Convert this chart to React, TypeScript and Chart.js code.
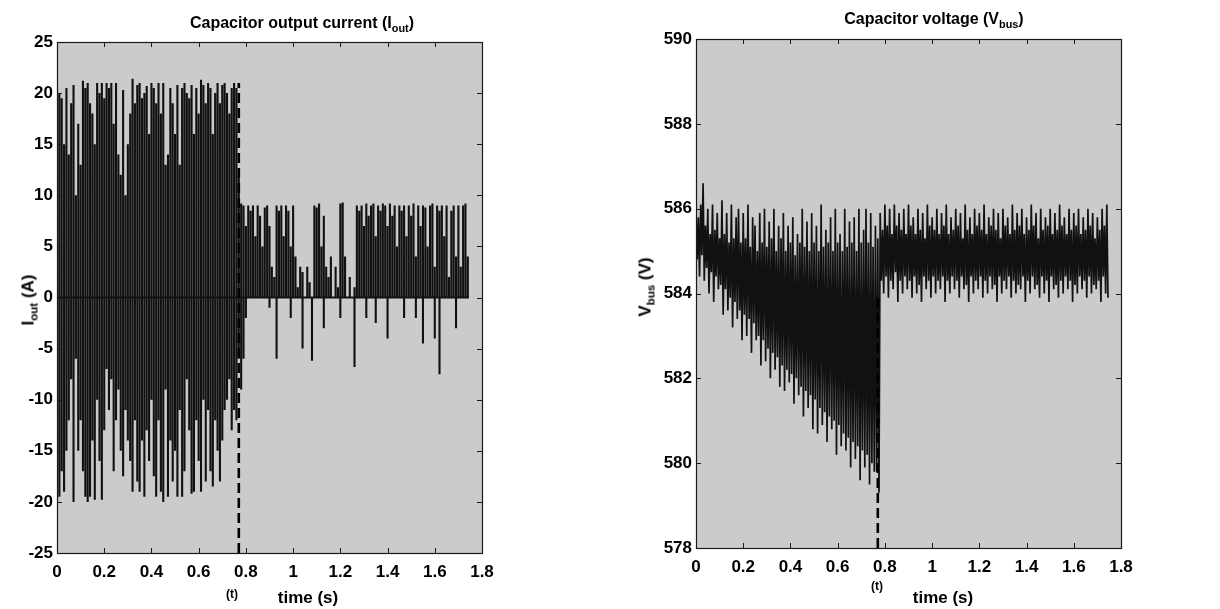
import React, { useEffect, useRef } from "react";
import { Chart, registerables } from "chart.js";

Chart.register(...registerables);

const FONT = '"Liberation Sans", Arial, Helvetica, sans-serif';
const PLOT_BG = "#cbcbcb";

// sampling bin of the recorded traces (s) and event instant
const binSeconds = 0.01;
const eventTime = 0.77;
const traceEnd = 1.745;

// Capacitor output current: per-bin positive peak (A), t = 0.00 .. 1.74 s
const iHi = [
  20.5, 20, 19.5, 15, 20.5, 14, 19, 20.8, 10, 17,
  13, 21.2, 20.5, 21, 19, 18, 15, 21, 20, 21,
  19.5, 21, 20.5, 21, 17, 21, 14, 12, 20.3, 10,
  15, 18, 21.4, 19, 20.8, 21, 19.5, 20, 20.7, 16,
  21, 20.5, 19, 21, 18, 21, 13, 14, 20.5, 19,
  16, 20.8, 13, 20.5, 21, 20, 19.5, 20.8, 16, 20.5,
  18, 21.3, 20.8, 19, 21, 20.5, 16, 20, 21, 19,
  20.8, 21, 20, 18, 20.5, 21, 20.5, 12,
  9.2, 9, 7, 9, 8.5, 9, 6, 9, 8, 5,
  8.8, 9, 7, 3, 2, 9, 8.5, 9, 6, 9,
  8.5, 5, 9, 4, 1, 3, 2.5, 0, 3, 1.5,
  0, 9, 8.8, 9.2, 5, 8, 3, 2, 4, 0,
  3, 1, 9.2, 9.3, 4, 0, 2, 0, 1, 9,
  8.5, 9, 7, 9.2, 8, 9, 9.2, 6, 9, 8.5,
  9.2, 9, 7, 9.2, 8, 9, 5, 9, 8.5, 9,
  6, 9, 8, 9.2, 4, 9, 7, 9, 8.8, 5,
  9, 9.2, 3, 9, 8.5, 9, 6, 9, 2, 8.5,
  9, 4, 9, 3, 9, 9.2, 4,
];

// Capacitor output current: per-bin negative peak (A)
const iLo = [
  -20, -19.5, -17, -19, -15, -12, -8, -20, -6, -15,
  -12, -17, -19.5, -20, -19.5, -14, -19.8, -10, -16, -19.8,
  -13, -7, -11, -8, -17, -12, -9, -15, -17.5, -11,
  -14, -16, -19, -12, -18, -19, -14, -19.5, -13, -16,
  -10, -17.5, -19.5, -12, -19, -20, -9, -19.5, -14, -18,
  -15, -19.5, -11, -19.5, -17, -8, -13, -19.2, -19, -12,
  -16, -19, -10, -18, -11, -17, -18.5, -12, -15, -18,
  -14, -11, -10, -8, -13, -11, -12, -6,
  -9, -6, -2, 0, 0, 0, 0, 0, 0, 0,
  0, 0, -1, 0, 0, -6, 0, 0, 0, 0,
  0, -2, 0, 0, 0, 0, -5, 0, 0, 0,
  -6.2, 0, 0, 0, 0, -3, 0, 0, 0, 0,
  0, 0, -2, 0, 0, 0, 0, 0, -6.8, 0,
  0, 0, 0, -2, 0, 0, 0, -2.5, 0, 0,
  0, 0, -4, 0, 0, 0, 0, 0, 0, -2,
  0, 0, 0, 0, -2, 0, 0, -4.5, 0, 0,
  0, 0, -4, 0, -7.5, 0, 0, 0, 0, 0,
  0, -3, 0, 0, 0, 0, 0,
];

// Capacitor voltage: per-bin upper value (V)
const vHi = [
  586.0, 585.8, 586.1, 586.6, 585.6, 586.0, 585.4, 586.1, 585.5, 585.9,
  585.3, 586.2, 585.4, 585.9, 585.2, 586.1, 585.3, 585.8, 586.0, 585.2,
  585.9, 585.3, 586.1, 585.1, 585.8, 585.6, 585.0, 585.9, 585.2, 586.0,
  585.1, 585.7, 585.3, 586.0, 585.0, 585.6, 585.3, 585.9, 585.0, 585.6,
  585.2, 585.8, 584.9, 585.4, 585.2, 586.0, 585.1, 585.7, 585.0, 585.9,
  585.2, 585.6, 585.0, 586.1, 585.1, 585.5, 585.2, 585.8, 585.0, 586.0,
  585.2, 585.4, 585.0, 586.0, 585.1, 585.7, 585.2, 585.8, 585.0, 586.0,
  585.2, 585.5, 586.0, 585.2, 585.9, 585.1, 585.6, 585.3,
  585.9, 585.5, 586.1, 585.6, 586.0, 585.4, 586.1, 585.6, 585.9, 585.5,
  586.0, 585.4, 586.1, 585.6, 585.8, 585.4, 586.0, 585.5, 585.9, 585.3,
  586.1, 585.6, 585.8, 585.5, 586.0, 585.4, 585.9, 585.6, 586.1, 585.4,
  585.8, 585.5, 586.0, 585.6, 585.9, 585.3, 586.1, 585.5, 585.8, 585.4,
  586.0, 585.6, 585.9, 585.5, 586.1, 585.4, 585.8, 585.6, 586.0, 585.5,
  585.9, 585.3, 586.0, 585.6, 585.8, 585.4, 586.1, 585.5, 585.9, 585.6,
  586.0, 585.4, 585.8, 585.5, 586.1, 585.6, 585.9, 585.3, 586.0, 585.5,
  585.8, 585.6, 586.0, 585.4, 585.9, 585.5, 586.1, 585.6, 585.8, 585.4,
  586.0, 585.5, 585.9, 585.6, 586.0, 585.4, 585.8, 585.5, 586.0, 585.6,
  585.9, 585.3, 585.8, 585.5, 586.0, 585.6, 586.1,
];

// Capacitor voltage: per-bin lower value (V)
const vLo = [
  584.8, 584.4, 584.9, 584.3, 584.6, 584.0, 584.5, 583.8, 584.4, 584.1,
  584.2, 583.5, 584.1, 583.6, 583.9, 583.2, 583.8, 583.4, 583.6, 582.9,
  583.5, 583.0, 583.4, 582.6, 583.3, 582.9, 583.0, 582.3, 582.9, 582.4,
  582.7, 582.0, 582.6, 582.2, 582.5, 581.8, 582.3, 581.7, 582.2, 581.9,
  582.1, 581.4, 582.0, 581.6, 581.8, 581.1, 581.7, 581.3, 581.6, 580.8,
  581.5, 580.7, 581.3, 580.9, 581.2, 580.5, 581.1, 580.8, 581.0, 580.2,
  580.9, 580.4, 580.7, 580.3, 580.6, 579.9, 580.5, 580.1, 580.4, 579.6,
  580.3, 579.9, 580.2, 579.5, 580.0, 579.8, 579.8, 579.3,
  584.3, 584.0, 584.4, 583.9, 584.3, 584.1, 584.5, 583.8, 584.3, 584.0,
  584.4, 584.1, 584.3, 583.9, 584.4, 584.0, 584.2, 583.8, 584.4, 584.1,
  584.3, 583.9, 584.4, 584.0, 584.3, 584.1, 584.4, 583.8, 584.3, 584.0,
  584.4, 584.1, 584.3, 583.9, 584.4, 584.1, 584.2, 583.8, 584.4, 584.0,
  584.3, 584.1, 584.4, 583.9, 584.3, 584.0, 584.4, 584.1, 584.2, 583.8,
  584.4, 584.0, 584.3, 584.1, 584.4, 583.9, 584.3, 584.0, 584.2, 584.1,
  584.4, 583.8, 584.3, 584.0, 584.4, 584.1, 584.2, 583.9, 584.4, 584.0,
  584.3, 583.8, 584.4, 584.1, 584.2, 583.9, 584.3, 584.0, 584.4, 584.1,
  584.3, 583.8, 584.2, 584.0, 584.4, 584.1, 584.3, 583.9, 584.4, 584.0,
  584.2, 584.1, 584.3, 583.8, 584.4, 584.0, 583.9,
];

// axis ranges
const xRange = [0, 1.8, 0.2];
const iRange = [-25, 25, 5];
const vRange = [578, 590, 2];
// dashed marker extents (value axis)
const iMarker = [-25, 21];
const vMarker = [578, 584];

function currentTrace() {
  const pts: { x: number; y: number }[] = [];
  iHi.forEach((hi, k) => {
    const t = k * binSeconds;
    pts.push({ x: t, y: 0 }, { x: t, y: hi }, { x: t, y: iLo[k] }, { x: t, y: 0 });
  });
  pts.push({ x: traceEnd, y: 0 });
  return pts;
}

function voltageTrace() {
  const pts: { x: number; y: number }[] = [];
  vHi.forEach((hi, k) => {
    const t = k * binSeconds;
    pts.push({ x: t, y: hi }, { x: t + binSeconds / 2, y: vLo[k] });
  });
  return pts;
}

const framePlugin = {
  id: "frame",
  beforeDraw(chart: any) {
    const { ctx, chartArea: a } = chart;
    ctx.save();
    ctx.fillStyle = PLOT_BG;
    ctx.fillRect(a.left, a.top, a.right - a.left, a.bottom - a.top);
    ctx.restore();
  },
  afterDraw(chart: any) {
    const { ctx, chartArea: a } = chart;
    const xs = chart.scales.x;
    const ys = chart.scales.y;
    ctx.save();
    ctx.strokeStyle = "#1a1a1a";
    ctx.lineWidth = 1;
    ctx.beginPath();
    xs.ticks.forEach((t: any) => {
      const px = Math.round(xs.getPixelForValue(t.value)) + 0.5;
      ctx.moveTo(px, a.bottom);
      ctx.lineTo(px, a.bottom - 5);
      ctx.moveTo(px, a.top);
      ctx.lineTo(px, a.top + 5);
    });
    ys.ticks.forEach((t: any) => {
      const py = Math.round(ys.getPixelForValue(t.value)) + 0.5;
      ctx.moveTo(a.left, py);
      ctx.lineTo(a.left + 5, py);
      ctx.moveTo(a.right, py);
      ctx.lineTo(a.right - 5, py);
    });
    ctx.stroke();
    ctx.lineWidth = 1.2;
    ctx.strokeRect(
      Math.round(a.left) + 0.5,
      Math.round(a.top) + 0.5,
      Math.round(a.right - a.left),
      Math.round(a.bottom - a.top)
    );
    ctx.restore();
  },
};

function buildConfig(
  trace: { x: number; y: number }[],
  lineWidth: number,
  yRange: number[],
  marker: number[],
  yAxisWidth: number,
  rightPad: number,
  topPad: number,
  xAxisHeight: number
): any {
  const tickFont = { family: FONT, size: 17, weight: "bold" as const };
  return {
    type: "line",
    data: {
      datasets: [
        {
          data: [
            { x: eventTime, y: marker[0] },
            { x: eventTime, y: marker[1] },
          ],
          borderColor: "#000000",
          borderWidth: 2.6,
          borderDash: [10, 5],
          pointRadius: 0,
          fill: false,
        },
        {
          data: trace,
          borderColor: "#111111",
          borderWidth: lineWidth,
          pointRadius: 0,
          fill: false,
          tension: 0,
        },
      ],
    },
    options: {
      responsive: false,
      animation: false,
      devicePixelRatio: 1,
      layout: { padding: { left: 0, right: rightPad, top: topPad, bottom: 0 } },
      plugins: { legend: { display: false }, tooltip: { enabled: false }, title: { display: false } },
      elements: { line: { borderJoinStyle: "miter", capBezierPoints: false } },
      scales: {
        x: {
          type: "linear",
          min: xRange[0],
          max: xRange[1],
          grid: { display: false, drawTicks: false, tickLength: 0 },
          border: { display: false },
          ticks: {
            stepSize: xRange[2],
            padding: 9,
            color: "#000",
            font: tickFont,
            maxRotation: 0,
            autoSkip: false,
            callback: (v: any) => String(Math.round(Number(v) * 10) / 10),
          },
          afterFit: (s: any) => {
            s.height = xAxisHeight;
          },
        },
        y: {
          type: "linear",
          min: yRange[0],
          max: yRange[1],
          grid: { display: false, drawTicks: false, tickLength: 0 },
          border: { display: false },
          ticks: {
            stepSize: yRange[2],
            padding: 4,
            color: "#000",
            font: tickFont,
            autoSkip: false,
            callback: (v: any) => String(Math.round(Number(v))),
          },
          afterFit: (s: any) => {
            s.width = yAxisWidth;
          },
        },
      },
    },
    plugins: [framePlugin],
  };
}

const textBase: React.CSSProperties = {
  position: "absolute",
  fontFamily: FONT,
  fontWeight: "bold",
  color: "#000",
  whiteSpace: "nowrap",
  lineHeight: 1,
  transform: "translate(-50%, -50%)",
};

function Sub({ children }: { children: React.ReactNode }) {
  return (
    <span style={{ fontSize: "0.68em", position: "relative", top: "0.35em" }}>{children}</span>
  );
}

export default function App() {
  const leftRef = useRef<HTMLCanvasElement | null>(null);
  const rightRef = useRef<HTMLCanvasElement | null>(null);

  useEffect(() => {
    const c1 = new Chart(
      leftRef.current as HTMLCanvasElement,
      buildConfig(currentTrace(), 2.1, iRange, iMarker, 57, 128, 42, 56)
    );
    const c2 = new Chart(
      rightRef.current as HTMLCanvasElement,
      buildConfig(voltageTrace(), 1.7, vRange, vMarker, 86, 99, 39, 61)
    );
    return () => {
      c1.destroy();
      c2.destroy();
    };
  }, []);

  return (
    <div
      style={{
        position: "absolute",
        left: 0,
        top: 0,
        width: 1220,
        height: 609,
        background: "#ffffff",
        overflow: "hidden",
      }}
    >
      <canvas
        ref={leftRef}
        width={610}
        height={609}
        style={{ position: "absolute", left: 0, top: 0, width: 610, height: 609 }}
      />
      <canvas
        ref={rightRef}
        width={610}
        height={609}
        style={{ position: "absolute", left: 610, top: 0, width: 610, height: 609 }}
      />

      <div style={{ ...textBase, left: 302, top: 23, fontSize: 16 }}>
        Capacitor output current (I<Sub>out</Sub>)
      </div>
      <div style={{ ...textBase, left: 934, top: 19, fontSize: 16 }}>
        Capacitor voltage (V<Sub>bus</Sub>)
      </div>

      <div style={{ ...textBase, left: 28, top: 300, fontSize: 17, transform: "translate(-50%, -50%) rotate(-90deg)" }}>
        I<Sub>out</Sub> (A)
      </div>
      <div style={{ ...textBase, left: 645, top: 287, fontSize: 17, transform: "translate(-50%, -50%) rotate(-90deg)" }}>
        V<Sub>bus</Sub> (V)
      </div>

      <div style={{ ...textBase, left: 232, top: 594, fontSize: 12 }}>(t)</div>
      <div style={{ ...textBase, left: 308, top: 597, fontSize: 17 }}>time (s)</div>
      <div style={{ ...textBase, left: 877, top: 586, fontSize: 12 }}>(t)</div>
      <div style={{ ...textBase, left: 943, top: 597, fontSize: 17 }}>time (s)</div>
    </div>
  );
}
